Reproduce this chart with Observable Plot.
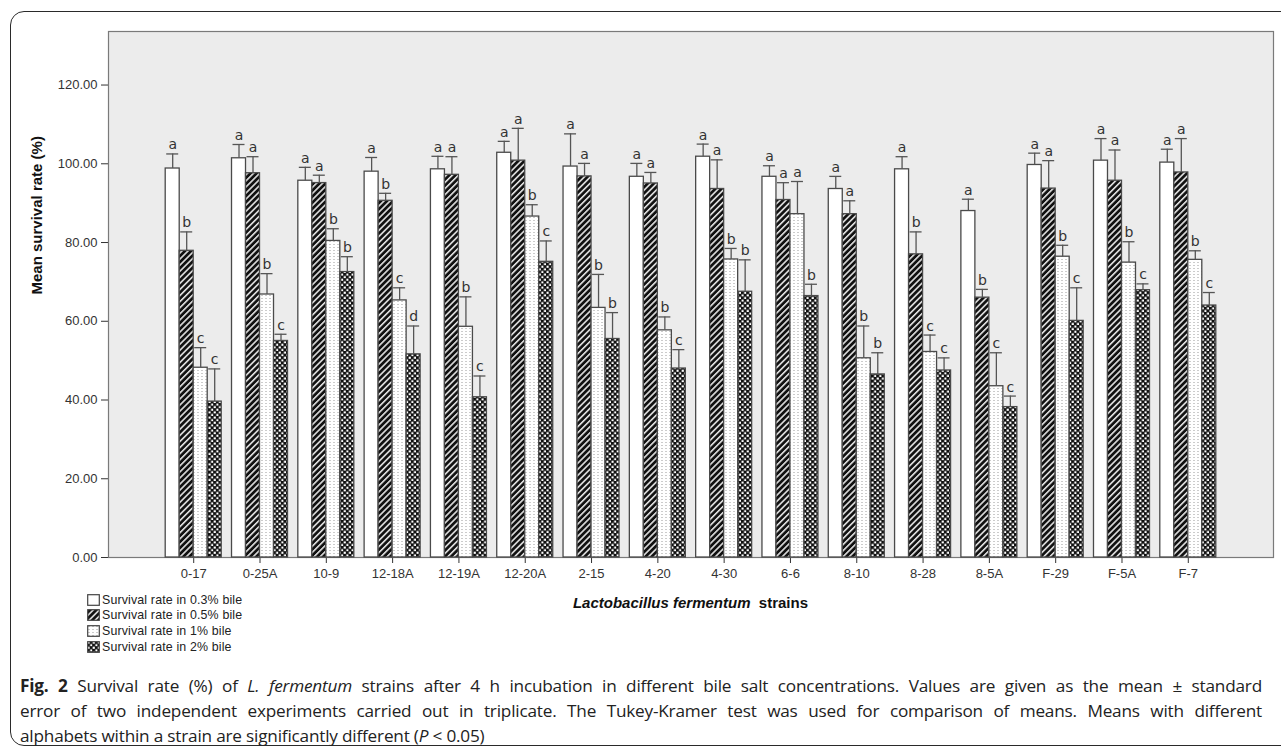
<!DOCTYPE html>
<html>
<head>
<meta charset="utf-8">
<script src="https://cdn.jsdelivr.net/npm/d3@7"></script>
<script src="https://cdn.jsdelivr.net/npm/@observablehq/plot@0.6"></script>
<style>
  html, body { margin: 0; padding: 0; background: #fff; width: 1281px; height: 751px; overflow: hidden; position: relative; font-family: "Liberation Sans", Arial, sans-serif; }
  #border { position: absolute; left: 10px; top: 11px; width: 1300px; height: 735px; border: 1.6px solid #2a2a2a; border-radius: 14px; box-sizing: border-box; }
  #chart { position: absolute; left: 0; top: 0; }
  #xtitle { position: absolute; left: 0; width: 1381px; top: 594px; text-align: center; font: bold 15px "Liberation Sans", Arial, sans-serif; color: #111; }
  #legend { position: absolute; left: 87px; top: 592px; font: 12.4px "Liberation Sans", Arial, sans-serif; color: #222; letter-spacing: 0.15px; }
  #legend .row { height: 15.6px; display: flex; align-items: center; white-space: nowrap; }
  #legend svg { margin-right: 2px; }
  #caption { position: absolute; left: 20px; top: 673px; width: 1242px; font: 17.2px "Open Sans", "Noto Sans", sans-serif; color: #222; line-height: 25px; letter-spacing: -0.2px; }
  #caption .j { text-align: justify; text-align-last: justify; white-space: nowrap; }
</style>
</head>
<body>
<svg width="0" height="0" style="position:absolute">
  <defs>
    <pattern id="pat-hatch" patternUnits="userSpaceOnUse" width="4.3" height="4.3" patternTransform="rotate(45)">
      <rect width="4.3" height="4.3" fill="#111"/>
      <line x1="0.8" y1="0" x2="0.8" y2="4.3" stroke="#fff" stroke-width="1.4"/>
    </pattern>
    <pattern id="pat-dots" patternUnits="userSpaceOnUse" width="4" height="3">
      <rect width="4" height="3" fill="#fff"/>
      <rect x="1.5" y="1" width="1" height="1" fill="#9a9a9a"/>
    </pattern>
    <pattern id="pat-check" patternUnits="userSpaceOnUse" width="5.2" height="5.2">
      <rect width="5.2" height="5.2" fill="#111"/>
      <rect x="0.5" y="0.5" width="2.1" height="2.1" fill="#fff"/>
      <rect x="3.1" y="3.1" width="2.1" height="2.1" fill="#fff"/>
    </pattern>
  </defs>
</svg>
<div id="border"></div>
<div id="chart"></div>
<div id="xtitle"><i>Lactobacillus fermentum</i>&nbsp; strains</div>
<div id="legend"></div>
<div id="caption">
  <div class="j"><b>Fig. 2</b> Survival rate (%) of <i>L. fermentum</i> strains after 4 h incubation in different bile salt concentrations. Values are given as the mean ± standard</div>
  <div class="j">error of two independent experiments carried out in triplicate. The Tukey-Kramer test was used for comparison of means. Means with different</div>
  <div>alphabets within a strain are significantly different (<i>P</i> &lt; 0.05)</div>
</div>
<script>
// ---- data ----
const strains = ["0-17","0-25A","10-9","12-18A","12-19A","12-20A","2-15","4-20","4-30","6-6","8-10","8-28","8-5A","F-29","F-5A","F-7"];
const seriesNames = ["Survival rate in 0.3% bile","Survival rate in 0.5% bile","Survival rate in 1% bile","Survival rate in 2% bile"];

const mean03 = [98.8,101.4,95.7,98.0,98.6,102.8,99.3,96.7,101.8,96.7,93.6,98.6,88.0,99.7,100.8,100.3];
const se03   = [3.7,3.5,3.4,3.6,3.3,2.9,8.3,3.4,3.2,2.8,3.2,3.2,3.0,3.0,5.6,3.4];
const let03  = ["a","a","a","a","a","a","a","a","a","a","a","a","a","a","a","a"];

const mean05 = [77.9,97.6,95.1,90.6,97.2,100.8,96.8,95.0,93.6,90.8,87.2,77.0,66.0,93.7,95.7,97.8];
const se05   = [4.8,4.2,2.0,1.9,4.6,8.2,3.3,2.8,7.4,4.4,3.4,5.7,2.1,7.1,7.8,8.6];
const let05  = ["b","a","a","b","a","a","a","a","a","a","a","b","b","a","a","a"];

const mean1 = [48.2,66.8,80.4,65.3,58.6,86.6,63.4,57.7,75.7,87.2,50.6,52.2,43.5,76.4,74.9,75.6];
const se1   = [5.1,5.3,3.1,3.2,7.6,3.0,8.5,3.4,2.8,8.3,8.2,4.3,8.5,2.9,5.3,2.3];
const let1  = ["c","b","b","c","b","b","b","b","b","a","b","c","c","b","b","b"];

const mean2 = [39.6,55.0,72.5,51.6,40.7,75.1,55.5,48.0,67.5,66.4,46.5,47.5,38.2,60.1,67.9,64.0];
const se2   = [8.3,1.7,3.9,7.2,5.4,5.3,6.7,4.8,8.1,3.0,5.5,3.2,2.8,8.4,1.6,3.3];
const let2  = ["c","c","b","d","c","c","b","c","b","b","b","c","c","c","c","c"];

const yTicks = [0,20,40,60,80,100,120];

// ---- build table ----
const means = [mean03, mean05, mean1, mean2];
const ses = [se03, se05, se1, se2];
const lets = [let03, let05, let1, let2];
const fills = ["#ffffff", "url(#pat-hatch)", "url(#pat-dots)", "url(#pat-check)"];

const series = seriesNames.map((name, s) =>
  strains.map((strain, i) => ({strain, series: name, mean: means[s][i], se: ses[s][i], letter: lets[s][i]}))
);

// ---- layout ----
const W = 1281, H = 600;
const mL = 108, mR = 8, mT = 31, mB = 43;
const padOuter = 0.785;
const step = (W - mL - mR) / (strains.length + 2 * padOuter);
const barW = 14;
const groupStart = (step - 4 * barW) / 2;

const marks = [Plot.frame({fill: "#ececec", stroke: "#7a7a7a", strokeWidth: 1.2})];
series.forEach((data, s) => {
  const left = groupStart + s * barW;
  const right = step - left - barW;
  const dx = left + barW / 2 - step / 2;
  marks.push(
    Plot.barY(data, {x: "strain", y: "mean", fill: fills[s], stroke: "#4a4a4a", strokeWidth: 1.3, insetLeft: left, insetRight: right}),
    Plot.ruleX(data, {x: "strain", y1: "mean", y2: d => d.mean + d.se, dx, stroke: "#555", strokeWidth: 1.3}),
    Plot.tickY(data, {x: "strain", y: d => d.mean + d.se, insetLeft: left + 1, insetRight: right + 1, stroke: "#555", strokeWidth: 1.3}),
    Plot.text(data, {x: "strain", y: d => d.mean + d.se, text: "letter", dx, dy: -9, fontSize: 14, fill: "#333", fontFamily: "DejaVu Sans, sans-serif"})
  );
});
marks.push(
  Plot.text(["Mean survival rate (%)"], {frameAnchor: "left", dx: -71, rotate: -90, text: d => d, fontSize: 15, fontWeight: "bold", fill: "#111"})
);

const plot = Plot.plot({
  width: W, height: H,
  marginLeft: mL, marginRight: mR, marginTop: mT, marginBottom: mB,
  style: {fontFamily: "Liberation Sans, Arial, sans-serif", fontSize: "13px", color: "#333", background: "transparent"},
  x: {domain: strains, paddingInner: 0, paddingOuter: padOuter, round: false, tickSize: 6, tickPadding: 5, label: null},
  y: {domain: [0, 133.6], ticks: yTicks, tickFormat: d3.format(".2f"), tickSize: 7, tickPadding: 4, label: null},
  marks
});
document.getElementById("chart").appendChild(plot);

// ---- legend ----
const legend = document.getElementById("legend");
seriesNames.forEach((name, s) => {
  const row = document.createElement("div");
  row.className = "row";
  row.innerHTML = `<svg width="13" height="12"><rect x="0.7" y="0.7" width="11.6" height="10.6" fill="${fills[s]}" stroke="#444" stroke-width="1.2"/></svg><span>${name}</span>`;
  legend.appendChild(row);
});
</script>
</body>
</html>
